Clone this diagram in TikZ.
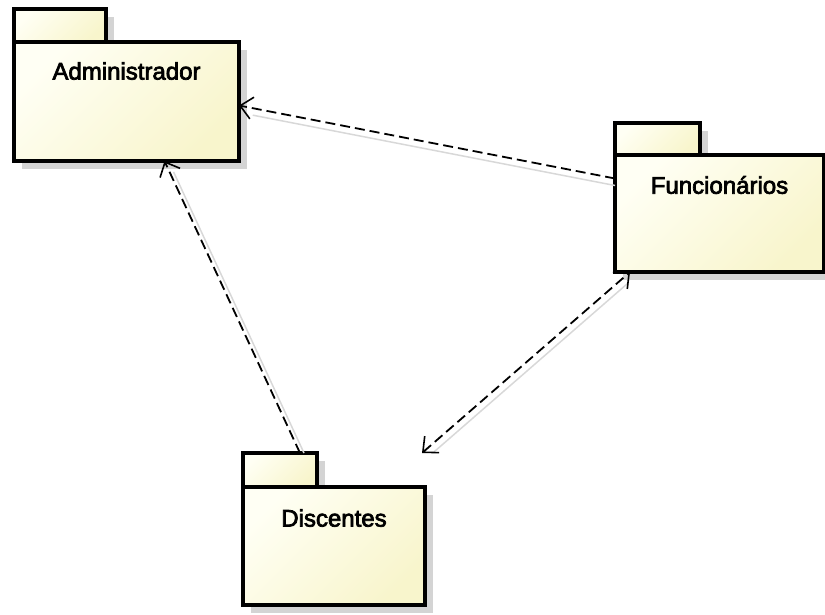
\documentclass[tikz,border=0pt]{standalone}
\usepackage{fontspec}
\setmainfont{Liberation Sans}[FakeBold=3]
\usetikzlibrary{arrows.meta,calc,shadows}
\definecolor{pkgL}{HTML}{FFFFF4}
\definecolor{pkgR}{HTML}{F8F5CC}
\definecolor{shad}{HTML}{D4D4D4}
\definecolor{gline}{HTML}{D8D8D8}
\begin{document}
\begin{tikzpicture}[x=1pt,y=-1pt,
  pkgpart/.style={draw=black, line width=3.5pt, top color=pkgL, bottom color=pkgR, shading angle=45,
    inner sep=0pt, outer sep=0pt, anchor=north west,
    drop shadow={shadow xshift=8pt, shadow yshift=-8pt, fill=shad, opacity=1}},
  pkglabel/.style={font=\fontsize{24}{28}\selectfont, inner sep=0pt},
  dep/.style={draw=black, line width=1.8pt, dash pattern=on 10pt off 5pt,
    -{Straight Barb[length=12pt,width=22pt,line width=1.6pt]}},
  ghost/.style={draw=gline, line width=1.5pt}]
\useasboundingbox (0,0) rectangle (825,614);

% Administrador
\node[pkgpart, minimum width=92pt, minimum height=33pt] (admtab) at (14,9) {};
\node[pkgpart, minimum width=225pt, minimum height=119pt] (adm) at (14,42) {};
\node[pkglabel] (admtxt) at ([yshift=-29pt]adm.north) {Administrador};

% Funcionarios
\node[pkgpart, minimum width=85pt, minimum height=32pt] (funtab) at (615,123) {};
\node[pkgpart, minimum width=209pt, minimum height=117pt] (fun) at (615,155) {};
\node[pkglabel] (funtxt) at ([yshift=-30pt]fun.north) {Funcionários};

% Discentes
\node[pkgpart, minimum width=74pt, minimum height=34pt] (distab) at (243,453) {};
\node[pkgpart, minimum width=182pt, minimum height=118pt] (dis) at (243,487) {};
\node[pkglabel] (distxt) at ([yshift=-31pt]dis.north) {Discentes};

% ghost lines
\draw[ghost, transform canvas={shift={(0pt,-7pt)}}, shorten >=14pt]
  ([yshift=35pt]fun.west) -- ([yshift=-4pt]adm.east);
\draw[ghost, transform canvas={shift={(4pt,0pt)}}, shorten >=12pt]
  ([xshift=20pt]distab.north) -- ([xshift=38pt]adm.south);
\draw[ghost, transform canvas={shift={(5pt,-5pt)}}, shorten >=10pt, shorten <=10pt]
  ([xshift=-3pt,yshift=34pt]dis.north east) -- ([xshift=15pt]fun.south west);

% dependencies
\draw[dep] ([yshift=35pt]fun.west) -- ([yshift=-4pt]adm.east);
\draw[dep] ([xshift=20pt]distab.north) -- ([xshift=38pt]adm.south);
\draw[dep, {Straight Barb[length=12pt,width=22pt,line width=1.6pt]}-{Straight Barb[length=12pt,width=22pt,line width=1.6pt]}]
  ([xshift=-3pt,yshift=34pt]dis.north east) -- ([xshift=15pt]fun.south west);
\end{tikzpicture}
\end{document}
